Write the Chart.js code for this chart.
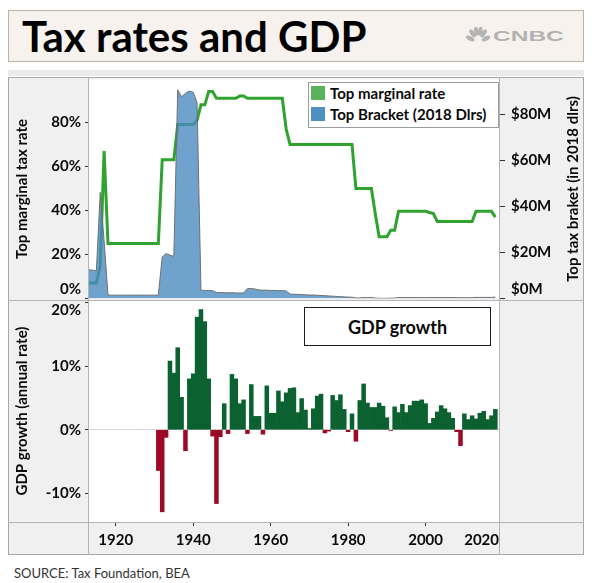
<!DOCTYPE html>
<html><head><meta charset="utf-8">
<script src="https://cdn.jsdelivr.net/npm/chart.js@4.4.1/dist/chart.umd.min.js"></script>
<style>
html,body{margin:0;padding:0;background:#fff;width:592px;height:583px;overflow:hidden;font-family:Lato,"DejaVu Sans",sans-serif;}
.abs{position:absolute;}
#titlebox{left:8px;top:10px;width:576px;height:52px;border:1px solid #bcb4ac;background:#f7f2ee;box-sizing:border-box;}
#title{left:22px;top:10px;height:52px;line-height:52px;font-size:42px;font-weight:700;color:#000;white-space:nowrap;}
#cnbc{left:493px;top:28px;font-family:"Liberation Sans",Arial,sans-serif;font-weight:700;font-size:14px;line-height:16px;color:#b2b2b2;transform:scaleX(1.75);transform-origin:0 0;}
#strip{left:8px;top:70px;width:576px;height:6px;background:#ebebee;}
#frame{left:8px;top:77px;width:576px;height:478px;border:1px solid #a9a9a9;box-sizing:border-box;z-index:5;}
.line{background:#b4b4b4;z-index:5;}
.sw{width:14px;height:14px;z-index:7;}
.lt{font-weight:700;font-size:15px;line-height:18px;color:#0a0a0a;white-space:nowrap;z-index:7;}
#gdpbox{left:304px;top:307px;width:187px;height:39px;border:1px solid #1a1a1a;box-sizing:border-box;background:#fff;z-index:7;display:flex;align-items:center;justify-content:center;font-weight:700;font-size:18px;color:#0a0a0a;}
#source{left:14px;top:565px;font-size:13px;line-height:16px;color:#333;white-space:nowrap;}
canvas{position:absolute;}
</style></head>
<body>
<div class="abs" id="titlebox"></div>
<div class="abs" id="title">Tax rates and GDP</div>
<svg class="abs" style="left:466px;top:27px" width="24" height="18" viewBox="0 0 24 18">
  <g fill="#b4b4b4">
    <ellipse cx="4.2" cy="11.5" rx="2.2" ry="4.6" transform="rotate(-62 4.2 11.5)"/>
    <ellipse cx="6.6" cy="6.4" rx="2.2" ry="4.6" transform="rotate(-35 6.6 6.4)"/>
    <ellipse cx="10.3" cy="4.2" rx="2.2" ry="4.6" transform="rotate(-10 10.3 4.2)"/>
    <ellipse cx="14.1" cy="4.2" rx="2.2" ry="4.6" transform="rotate(10 14.1 4.2)"/>
    <ellipse cx="17.6" cy="6.4" rx="2.2" ry="4.6" transform="rotate(35 17.6 6.4)"/>
    <ellipse cx="20" cy="11.5" rx="2.2" ry="4.6" transform="rotate(62 20 11.5)"/>
  </g>
</svg>
<div class="abs" id="cnbc">CNBC</div>
<div class="abs" id="strip"></div>

<canvas id="topChart" style="left:8px;top:78px" width="576" height="222"></canvas>
<canvas id="botChart" style="left:8px;top:300px" width="576" height="255"></canvas>

<div class="abs" id="frame"></div>
<div class="abs line" style="left:88px;top:77px;width:1px;height:478px"></div>
<div class="abs line" style="left:499px;top:77px;width:1px;height:478px"></div>
<div class="abs line" style="left:8px;top:300px;width:576px;height:1px"></div>
<div class="abs line" style="left:8px;top:522px;width:576px;height:1px"></div>

<div class="abs" style="left:308px;top:82px;width:191px;height:46px;border:1px solid #9b9b9b;background:#fff;box-sizing:border-box;z-index:6"></div>
<div class="abs sw" style="left:311px;top:86px;background:#5ab35a"></div>
<div class="abs lt" style="left:330px;top:84px">Top marginal rate</div>
<div class="abs sw" style="left:311px;top:107px;background:#4f90c3"></div>
<div class="abs lt" style="left:330px;top:105px">Top Bracket (2018 Dlrs)</div>

<div class="abs" id="gdpbox">GDP growth</div>
<div class="abs" id="source">SOURCE: Tax Foundation, BEA</div>

<script>
// ---------------- DATA ----------------
const taxYears = [1913,1914,1915,1916,1917,1918,1919,1920,1921,1922,1923,1924,1925,1926,1927,1928,1929,1930,
  1931,1932,1933,1934,1935,1936,1937,1938,1939,1940,1941,1942,1943,1944,1945,1946,1947,1948,1949,1950,
  1951,1952,1953,1954,1955,1956,1957,1958,1959,1960,1961,1962,1963,1964,1965,1966,1967,1968,1969,1970,
  1971,1972,1973,1974,1975,1976,1977,1978,1979,1980,1981,1982,1983,1984,1985,1986,1987,1988,1989,1990,
  1991,1992,1993,1994,1995,1996,1997,1998,1999,2000,2001,2002,2003,2004,2005,2006,2007,2008,2009,2010,
  2011,2012,2013,2014,2015,2016,2017,2018];
// Top marginal rate (%)
const topRate = [7,7,7,15,67,25,25,25,25,25,25,25,25,25,25,25,25,25,
  25,63,63,63,63,79,79,79,79,79,81,88,88,94,94,91,91,91,91,91,
  91,92,92,91,91,91,91,91,91,91,91,91,91,77,70,70,70,70,70,70,
  70,70,70,70,70,70,70,70,70,70,70,50,50,50,50,50,38.5,28,28,28,
  31,31,39.6,39.6,39.6,39.6,39.6,39.6,39.6,39.6,39.1,38.6,35,35,35,35,35,35,35,35,
  35,35,39.6,39.6,39.6,39.6,39.6,37];
// Top bracket threshold, millions of 2018 dollars
const bracketM = [12.5,12.3,12.0,46,25,1.5,1.45,1.45,1.45,1.45,1.45,1.45,1.45,1.45,1.45,1.45,1.45,1.45,
  1.45,18,19.5,18.8,18.3,90.5,87.5,89,90,89.5,85,3.6,3.5,3.5,3.4,2.6,2.6,2.5,2.5,2.5,
  2.4,2.4,2.4,4.3,4.3,4.1,3.7,3.6,3.6,3.5,3.5,3.4,3.4,3.3,1.9,1.8,1.8,1.7,1.6,1.5,
  1.5,1.4,1.3,1.2,1.1,1.0,0.9,0.8,0.7,0.6,0.55,0.22,0.27,0.39,0.39,0.4,0.2,0.07,0.07,0.07,
  0.15,0.15,0.43,0.42,0.41,0.4,0.39,0.38,0.37,0.36,0.42,0.43,0.42,0.41,0.4,0.39,0.38,0.36,0.36,0.36,
  0.35,0.34,0.48,0.47,0.47,0.47,0.46,0.6];

const gdpYears = [1931,1932,1933,1934,1935,1936,1937,1938,1939,1940,1941,1942,1943,1944,1945,1946,1947,1948,1949,1950,
  1951,1952,1953,1954,1955,1956,1957,1958,1959,1960,1961,1962,1963,1964,1965,1966,1967,1968,1969,1970,
  1971,1972,1973,1974,1975,1976,1977,1978,1979,1980,1981,1982,1983,1984,1985,1986,1987,1988,1989,1990,
  1991,1992,1993,1994,1995,1996,1997,1998,1999,2000,2001,2002,2003,2004,2005,2006,2007,2008,2009,2010,
  2011,2012,2013,2014,2015,2016,2017,2018];
// Real GDP growth (%)
const gdpGrowth = [-6.4,-12.9,-1.2,10.8,8.9,12.9,5.1,-3.3,8.0,8.8,17.7,18.9,17.0,8.0,-1.0,-11.6,-1.1,4.1,-0.6,8.7,
  8.0,4.1,4.7,-0.6,7.1,2.1,2.1,-0.7,6.9,2.6,2.6,6.1,4.4,5.8,6.5,6.6,2.7,4.9,3.1,0.2,
  3.3,5.3,5.6,-0.5,-0.2,5.4,4.6,5.5,3.2,-0.3,2.5,-1.8,4.6,7.2,4.2,3.5,3.5,4.2,3.7,1.9,
  -0.1,3.6,2.7,4.0,2.7,3.8,4.5,4.5,4.7,4.1,1.0,1.8,2.8,3.8,3.3,2.7,1.8,-0.3,-2.5,2.5,
  1.6,2.2,1.7,2.6,2.9,1.6,2.2,3.2];

const rateTicks = [0,20,40,60,80];
const rateTickLabels = ['0%','20%','40%','60%','80%'];
const bracketTicks = [0,20,40,60,80];
const bracketTickLabels = ['$0M','$20M','$40M','$60M','$80M'];
const gdpTicks = [-10,0,10,20];
const gdpTickLabels = ['-10%','0%','10%','20%'];
const yearTicks = [1920,1940,1960,1980,2000,2020];
const yearTickLabels = ['1920','1940','1960','1980','2000','2020'];

// ---------------- STYLE ----------------
const TICK_FONT = 'bold 15px Lato, "DejaVu Sans", sans-serif';
const TXT = '#0a0a0a';
const X_MIN = 1913.1, X_MAX = 2019.2;

const bgPlugin = {
  id: 'panelBg',
  beforeDraw(chart) {
    const {ctx, chartArea: a, width, height} = chart;
    ctx.save();
    ctx.fillStyle = '#f0f0f0';
    ctx.fillRect(0, 0, width, height);
    ctx.fillStyle = '#ffffff';
    ctx.fillRect(a.left, a.top, a.right - a.left, a.bottom - a.top);
    ctx.restore();
  }
};

const labelPlugin = {
  id: 'axisText',
  afterDraw(chart, args, opts) {
    const ctx = chart.ctx, a = chart.chartArea;
    ctx.save();
    ctx.fillStyle = TXT;
    ctx.font = TICK_FONT;
    ctx.textBaseline = 'middle';
    (opts.y || []).forEach(ax => {
      const sc = chart.scales[ax.id];
      ax.values.forEach((v, i) => {
        let py = sc.getPixelForValue(v);
        py = Math.min(Math.max(py, a.top + 10.5), a.bottom - 9);
        if (ax.side === 'left') { ctx.textAlign = 'right'; ctx.fillText(ax.labels[i], a.left - 8, py); }
        else { ctx.textAlign = 'left'; ctx.fillText(ax.labels[i], a.right + 11, py); }
      });
      ctx.save();
      ctx.translate(ax.titleX, (a.top + a.bottom) / 2 + (ax.titleDy || 0));
      ctx.rotate(-Math.PI / 2);
      ctx.textAlign = 'center';
      ctx.fillText(ax.title, 0, 0);
      ctx.restore();
    });
    if (opts.x) {
      const sc = chart.scales.x;
      ctx.textAlign = 'center';
      opts.x.values.forEach((v, i) => {
        const lbl = opts.x.labels[i];
        const w = ctx.measureText(lbl).width;
        let px = sc.getPixelForValue(v);
        px = Math.min(px, a.right - w / 2 - 1);
        ctx.fillText(lbl, px, a.bottom + 18);
      });
    }
    ctx.restore();
  }
};

function fixedWidth(w) {
  return s => { s.width = w; s.paddingTop = 0; s.paddingBottom = 0; s.paddingLeft = 0; s.paddingRight = 0; };
}
function setTicks(vals) { return s => { s.ticks = vals.map(v => ({value: v})); }; }

const topChart = new Chart(document.getElementById('topChart'), {
  type: 'line',
  data: {
    datasets: [
      {
        label: 'Top Bracket (2018 Dlrs)',
        data: taxYears.map((y, i) => ({x: y, y: bracketM[i]})),
        yAxisID: 'yR', fill: 'origin',
        backgroundColor: 'rgba(70,137,192,0.78)',
        borderColor: '#6f6f6f', borderWidth: 1,
        pointRadius: 0, tension: 0, order: 0
      },
      {
        label: 'Top marginal rate',
        data: taxYears.map((y, i) => ({x: y, y: topRate[i]})),
        yAxisID: 'yL', fill: false,
        borderColor: '#2fa22f', borderWidth: 3,
        pointRadius: 0, tension: 0, order: 1
      }
    ]
  },
  options: {
    responsive: false, animation: false, devicePixelRatio: 1,
    layout: {padding: 0},
    plugins: {
      legend: {display: false}, tooltip: {enabled: false},
      axisText: {
        y: [
          {id: 'yL', side: 'left', values: rateTicks, labels: rateTickLabels, title: 'Top marginal tax rate', titleX: 14},
          {id: 'yR', side: 'right', values: bracketTicks, labels: bracketTickLabels, title: 'Top tax braket (in 2018 dlrs)', titleX: 565}
        ]
      }
    },
    scales: {
      x: {type: 'linear', min: X_MIN, max: X_MAX, display: false},
      yL: {
        position: 'left', min: 0, max: 99.5,
        afterBuildTicks: setTicks(rateTicks), afterFit: fixedWidth(81),
        ticks: {display: false},
        grid: {drawOnChartArea: false, drawTicks: true, tickLength: 4, tickColor: '#333'},
        border: {display: false}
      },
      yR: {
        position: 'right', min: 0, max: 95,
        afterBuildTicks: setTicks(bracketTicks), afterFit: fixedWidth(84),
        ticks: {display: false},
        grid: {drawOnChartArea: false, drawTicks: true, tickLength: 5, tickColor: '#333'},
        border: {display: false}
      }
    }
  },
  plugins: [bgPlugin, labelPlugin]
});

const GREEN = '#0b612f', RED = '#9c0a26';
const botChart = new Chart(document.getElementById('botChart'), {
  type: 'bar',
  data: {
    datasets: [{
      label: 'GDP growth',
      data: gdpYears.map((y, i) => ({x: y, y: gdpGrowth[i]})),
      backgroundColor: c => (c.raw && c.raw.y < 0) ? RED : GREEN,
      borderWidth: 0, barPercentage: 1, categoryPercentage: 1, yAxisID: 'y'
    }]
  },
  options: {
    responsive: false, animation: false, devicePixelRatio: 1,
    layout: {padding: {left: 0, right: 84, top: 0, bottom: 0}},
    plugins: {
      legend: {display: false}, tooltip: {enabled: false},
      axisText: {
        y: [{id: 'y', side: 'left', values: gdpTicks, labels: gdpTickLabels, title: 'GDP growth (annual rate)', titleX: 14}],
        x: {values: yearTicks, labels: yearTickLabels}
      }
    },
    scales: {
      x: {
        type: 'linear', min: X_MIN, max: X_MAX, offset: false,
        afterBuildTicks: setTicks([1920,1940,1960,1980,2000]),
        afterFit: s => { s.height = 33; s.paddingLeft = 0; s.paddingRight = 0; },
        ticks: {display: false},
        grid: {offset: false, drawOnChartArea: false, drawTicks: true, tickLength: 4, tickColor: '#333'},
        border: {display: false}
      },
      y: {
        position: 'left', min: -14.5, max: 20.4,
        afterBuildTicks: setTicks(gdpTicks), afterFit: fixedWidth(81),
        ticks: {display: false},
        grid: {
          drawOnChartArea: true, drawTicks: true, tickLength: 4, tickColor: '#333',
          color: c => (c.tick && c.tick.value === 0) ? '#d6d6d6' : 'rgba(0,0,0,0)'
        },
        border: {display: false}
      }
    }
  },
  plugins: [bgPlugin, labelPlugin]
});

if (document.fonts && document.fonts.ready) {
  document.fonts.ready.then(() => { topChart.update(); botChart.update(); });
}
</script>
</body></html>
